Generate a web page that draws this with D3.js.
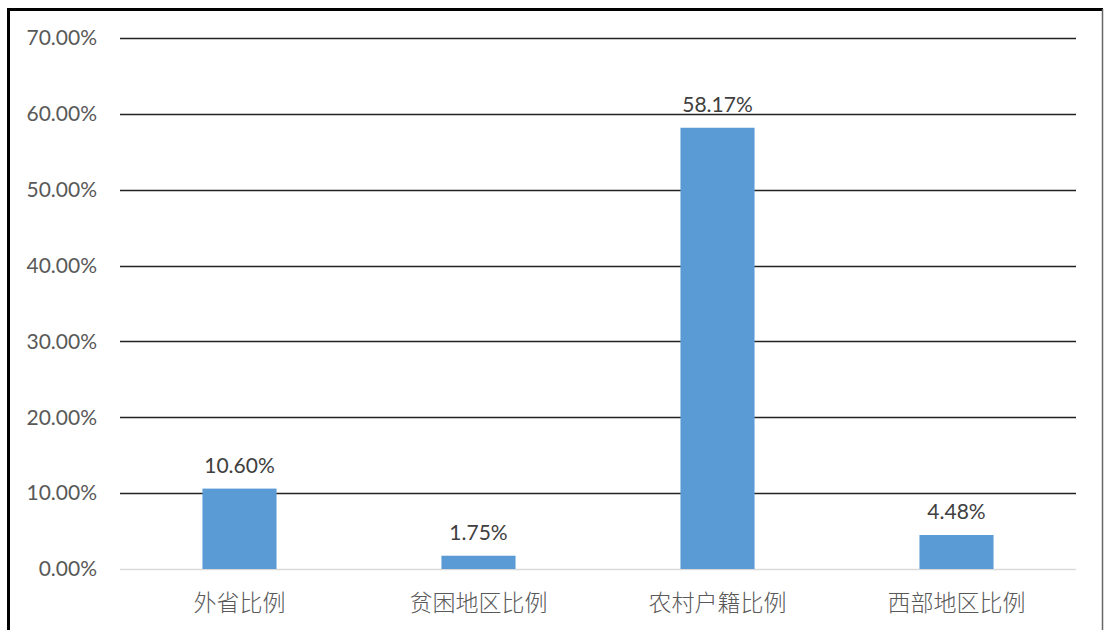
<!DOCTYPE html>
<html lang="zh">
<head>
  <meta charset="UTF-8" />
  <title>比例</title>
  <style>
    body { margin: 0; background: #fff; }
    svg { display: block; }
  </style>
</head>
<body>
  <div id="chart"></div>
  <script src="https://d3js.org/d3.v7.min.js"></script>
  <script>
    const categories = ["外省比例", "贫困地区比例", "农村户籍比例", "西部地区比例"];
    const values = [10.60, 1.75, 58.17, 4.48];
    const yTicks = [0, 10, 20, 30, 40, 50, 60, 70];

    const W = 1105, H = 630;
    const margin = { left: 120, right: 29, top: 38, bottom: 61 };

    const svg = d3.select("#chart").append("svg")
      .attr("width", W).attr("height", H);

    // frame
    svg.append("rect").attr("x", 0).attr("y", 0).attr("width", W).attr("height", H).attr("fill", "#fff");
    svg.append("path")
      .attr("d", `M8.5,${H} V9.5 H${W - 2}`)
      .attr("fill", "none").attr("stroke", "#000").attr("stroke-width", 3);
    svg.append("line")
      .attr("x1", W - 2.5).attr("x2", W - 2.5).attr("y1", 9).attr("y2", H)
      .attr("stroke", "#666").attr("stroke-width", 1.5);

    const x = d3.scaleBand()
      .domain(categories)
      .range([margin.left, W - margin.right])
      .paddingInner(0.69).paddingOuter(0.345);

    const y = d3.scaleLinear()
      .domain([0, 70])
      .range([H - margin.bottom, margin.top]);

    // gridlines
    svg.append("g").selectAll("line")
      .data(yTicks)
      .join("line")
      .attr("x1", margin.left).attr("x2", W - margin.right)
      .attr("y1", d => Math.round(y(d)) + 0.5).attr("y2", d => Math.round(y(d)) + 0.5)
      .attr("stroke", d => d === 0 ? "#d9d9d9" : "#222")
      .attr("stroke-width", d => d === 0 ? 1.5 : 1.3);

    // y axis labels
    const yAxis = d3.axisLeft(y).tickValues(yTicks).tickSize(0).tickPadding(0)
      .tickFormat(d => d.toFixed(2) + "%");
    svg.append("g")
      .attr("transform", `translate(97,0)`)
      .call(yAxis)
      .call(g => g.select(".domain").remove())
      .selectAll("text")
      .attr("fill", "#595959")
      .attr("font-family", "Lato, 'Open Sans', sans-serif")
      .attr("font-size", 21);

    // bars
    svg.append("g").selectAll("rect")
      .data(values)
      .join("rect")
      .attr("x", (d, i) => x(categories[i]))
      .attr("width", x.bandwidth())
      .attr("y", d => y(d))
      .attr("height", d => y(0) - y(d))
      .attr("fill", "#5b9bd5");

    // value labels
    svg.append("g").selectAll("text")
      .data(values)
      .join("text")
      .attr("x", (d, i) => x(categories[i]) + x.bandwidth() / 2)
      .attr("y", d => y(d) - 16)
      .attr("text-anchor", "middle")
      .attr("fill", "#404040")
      .attr("font-family", "Lato, 'Open Sans', sans-serif")
      .attr("font-size", 21)
      .text(d => d.toFixed(2) + "%");

    // category labels
    const xAxis = d3.axisBottom(x).tickSize(0).tickPadding(0);
    svg.append("g")
      .attr("transform", `translate(0,${H - margin.bottom + 42})`)
      .call(xAxis)
      .call(g => g.select(".domain").remove())
      .selectAll("text")
      .attr("fill", "#595959")
      .attr("font-family", "'Noto Sans CJK SC', sans-serif")
      .attr("font-weight", 300)
      .attr("font-size", 23)
      .attr("dy", 0);
  </script>
</body>
</html>
